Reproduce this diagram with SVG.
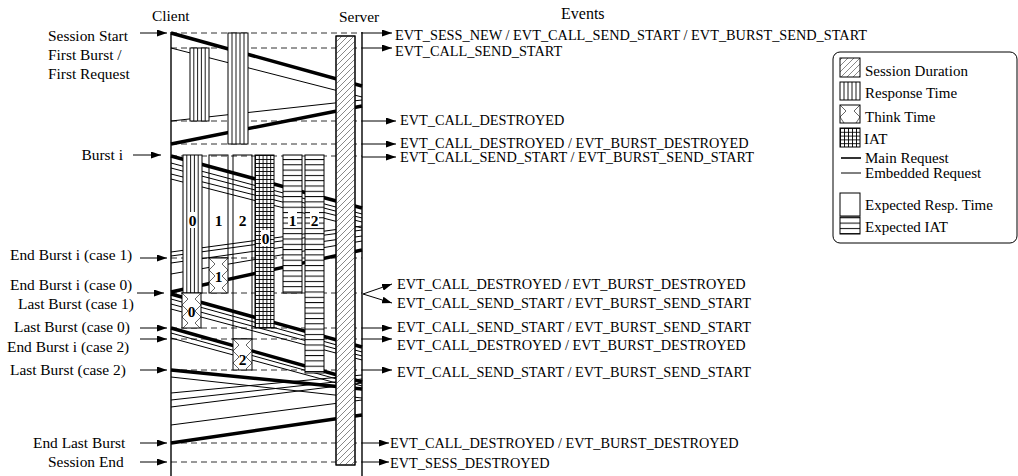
<svg xmlns="http://www.w3.org/2000/svg" width="1018" height="476" viewBox="0 0 1018 476">
<style>
text{font-family:"Liberation Serif","Times New Roman",serif;fill:#000}
.lbl{font-size:15.4px}
.evt{font-size:14.3px}
.leg{font-size:15px}
.dash{stroke:#333;stroke-width:1;stroke-dasharray:6,4;fill:none}
.thick{stroke:#000;stroke-width:3.5;fill:none}
.thin{stroke:#000;stroke-width:1;fill:none}
.ax{stroke:#000;stroke-width:1.4;fill:none}
.arr{stroke:#000;stroke-width:1;fill:none;marker-end:url(#ah)}
.box{stroke:#000;stroke-width:1;}
.strip{stroke:#000;stroke-width:0.9;fill:none}
</style>
<defs>
<marker id="ah" markerUnits="userSpaceOnUse" markerWidth="10" markerHeight="7" refX="10" refY="3.5" orient="auto"><path d="M0,0 L10,3.5 L0,7 z" fill="#000"/></marker>
<pattern id="hatch" patternUnits="userSpaceOnUse" width="6" height="6"><path d="M0,6 L6,0 M-1,1 L1,-1 M5,7 L7,5" stroke="#555" stroke-width="0.7"/></pattern>
<pattern id="hlines" patternUnits="userSpaceOnUse" width="20" height="5.3"><rect width="20" height="5.3" fill="#fff"/><line x1="0" y1="0.5" x2="20" y2="0.5" stroke="#000" stroke-width="1"/></pattern>
<pattern id="grid0" patternUnits="userSpaceOnUse" x="255" y="155" width="3.8" height="4"><rect width="3.8" height="4" fill="#fff"/><path d="M0.5,0 V4 M0,0.5 H3.8" stroke="#000" stroke-width="0.9"/></pattern>
<pattern id="gridL" patternUnits="userSpaceOnUse" x="840" y="128" width="4" height="3.8"><rect width="4" height="3.8" fill="#fff"/><path d="M0.5,0 V3.8 M0,0.5 H4" stroke="#000" stroke-width="0.9"/></pattern>
<pattern id="zz0" patternUnits="userSpaceOnUse" x="182" y="293" width="19" height="12"><rect width="19" height="12" fill="#fff"/><path d="M0,0 L6,6 L0,12 M19,0 L13,6 L19,12" stroke="#555" stroke-width="0.9" fill="none"/></pattern>
<pattern id="zz1" patternUnits="userSpaceOnUse" x="209" y="258" width="19" height="12"><rect width="19" height="12" fill="#fff"/><path d="M0,0 L6,6 L0,12 M19,0 L13,6 L19,12" stroke="#555" stroke-width="0.9" fill="none"/></pattern>
<pattern id="zz2" patternUnits="userSpaceOnUse" x="233" y="339" width="19" height="12"><rect width="19" height="12" fill="#fff"/><path d="M0,0 L6,6 L0,12 M19,0 L13,6 L19,12" stroke="#555" stroke-width="0.9" fill="none"/></pattern>
<pattern id="zzL" patternUnits="userSpaceOnUse" x="840" y="105" width="20" height="18"><rect width="20" height="18" fill="#fff"/><path d="M0,0 L6,6 L0,12 L4,18 M20,0 L14,6 L20,12 L16,18" stroke="#555" stroke-width="0.9" fill="none"/></pattern>
</defs>

<g id="headers">
<text class="lbl" x="152" y="21">Client</text>
<text class="lbl" x="339" y="22">Server</text>
<text class="lbl" x="561" y="19" style="font-size:16px">Events</text>
</g>

<g id="left-labels">
<text class="lbl" x="48" y="41">Session Start</text>
<text class="lbl" x="48" y="60">First Burst /</text>
<text class="lbl" x="48" y="79">First Request</text>
<text class="lbl" x="81.5" y="160">Burst i</text>
<text class="lbl" x="10" y="260">End Burst i (case 1)</text>
<text class="lbl" x="10" y="290">End Burst i (case 0)</text>
<text class="lbl" x="18" y="309">Last Burst (case 1)</text>
<text class="lbl" x="14" y="332">Last Burst (case 0)</text>
<text class="lbl" x="7" y="352">End Burst i (case 2)</text>
<text class="lbl" x="10" y="375">Last Burst (case 2)</text>
<text class="lbl" x="33" y="448">End Last Burst</text>
<text class="lbl" x="48" y="467">Session End</text>
</g>

<g id="connectors">
<path class="dash" d="M171,33 H362 M171,48 H362 M171,121 H362 M171,144 H362 M171,156 H362 M171,258 H362 M171,293 H362 M171,328 H362 M171,339 H362 M171,370 H362 M171,443 H362 M171,462 H362"/>
<path class="arr" d="M140,33 H167"/>
<path class="arr" d="M133,155 H161"/>
<path class="arr" d="M140,258 H167"/>
<path class="arr" d="M137,293 H164"/>
<path class="arr" d="M140,328 H167"/>
<path class="arr" d="M140,339 H167"/>
<path class="arr" d="M140,370 H167"/>
<path class="arr" d="M140,443 H167"/>
<path class="arr" d="M140,462 H167"/>
<path class="arr" d="M362,33 H392"/>
<path class="arr" d="M362,48 H392"/>
<path class="arr" d="M362,121 H396"/>
<path class="arr" d="M362,144 H396"/>
<path class="arr" d="M362,157 H396"/>
<path class="arr" d="M363,294 L392,284"/>
<path class="arr" d="M363,294 L392,303"/>
<path class="arr" d="M362,328 H392"/>
<path class="arr" d="M362,339 H392"/>
<path class="arr" d="M362,370 H392"/>
<path class="arr" d="M362,443 H389"/>
<path class="arr" d="M362,462 H389"/>
<path class="thick" d="M171,33 L362,86"/>
<path class="thin" d="M171,48 L362,97"/>
<path class="thin" d="M362,100 L171,121"/>
<path class="thick" d="M362,106 L171,144"/>
<path class="thick" d="M171,156 L362,208"/>
<path class="thin" d="M171,163 L362,214 M171,168 L362,218 M171,174 L362,222 M171,179 L362,228"/>
<path class="thin" d="M362,226 L171,252 M362,230 L171,256 M362,236 L171,263 M362,241 L171,274"/>
<path class="thick" d="M362,250 L171,292"/>
<path class="thick" d="M171,294 L362,347"/>
<path class="thin" d="M171,299 L362,352 M171,304 L362,356 M171,309 L362,360"/>
<path class="thick" d="M171,328 L362,382"/>
<path class="thin" d="M171,333 L362,386 M171,338 L362,390"/>
<path class="thick" d="M171,370 L362,389"/>
<path class="thin" d="M171,377 L362,398 M171,393 L362,375 M171,400 L362,379 M171,407 L362,383 M362,400 L171,425"/>
<path class="thick" d="M362,415 L171,443"/>
</g>

<g id="axes">
<line class="ax" x1="171" y1="32" x2="171" y2="476"/>
<line class="ax" x1="362" y1="32" x2="362" y2="476"/>
</g>

<g id="session-duration">
<rect class="box" x="336" y="36" width="19" height="429" fill="#fff"/>
<rect class="box" x="336" y="36" width="19" height="429" fill="url(#hatch)"/>
</g>

<g id="resp-first-embedded">
<rect class="box" x="190" y="48" width="19" height="73" fill="#fff"/>
<path class="strip" d="M193.8,48 V121 M197.6,48 V121 M201.4,48 V121 M205.2,48 V121"/>
</g>
<g id="resp-first-main">
<rect class="box" x="228" y="33" width="20" height="111" fill="#fff"/>
<path class="strip" d="M232,33 V144 M236,33 V144 M240,33 V144 M244,33 V144"/>
</g>

<g id="resp-0">
<rect class="box" x="183" y="155" width="19" height="138" fill="#fff"/>
<path class="strip" d="M186.8,155 V293 M190.6,155 V293 M194.4,155 V293 M198.2,155 V293"/>
<rect x="188" y="212" width="9" height="16" fill="#fff"/>
<text class="lbl" x="192.5" y="226" text-anchor="middle" font-weight="bold">0</text>
</g>
<g id="think-0">
<rect class="box" x="182" y="293" width="19" height="35" fill="url(#zz0)"/>
<text class="lbl" x="191.5" y="317" text-anchor="middle" font-weight="bold">0</text>
</g>

<g id="exp-resp-1">
<rect class="box" x="209" y="155" width="19" height="103" fill="none"/>
<text class="lbl" x="218.5" y="226" text-anchor="middle" font-weight="bold">1</text>
</g>
<g id="think-1">
<rect class="box" x="209" y="258" width="19" height="35" fill="url(#zz1)"/>
<text class="lbl" x="218.5" y="282" text-anchor="middle" font-weight="bold">1</text>
</g>

<g id="exp-resp-2">
<rect class="box" x="233" y="155" width="19" height="184" fill="none"/>
<text class="lbl" x="242.5" y="226" text-anchor="middle" font-weight="bold">2</text>
</g>
<g id="think-2">
<rect class="box" x="233" y="339" width="19" height="31" fill="url(#zz2)"/>
<text class="lbl" x="242.5" y="365" text-anchor="middle" font-weight="bold">2</text>
</g>

<g id="iat-0">
<rect class="box" x="255" y="155" width="19" height="173" fill="url(#grid0)"/>
<rect x="261" y="230" width="9" height="16" fill="#fff"/>
<text class="lbl" x="265.5" y="244" text-anchor="middle" font-weight="bold">0</text>
</g>

<g id="exp-iat-1">
<rect class="box" x="283" y="155" width="19" height="138" fill="url(#hlines)"/>
<rect x="288" y="212" width="9" height="16" fill="#fff"/>
<text class="lbl" x="292.5" y="226" text-anchor="middle" font-weight="bold">1</text>
</g>
<g id="exp-iat-2">
<rect class="box" x="305" y="155" width="19" height="218" fill="url(#hlines)"/>
<rect x="310" y="212" width="9" height="16" fill="#fff"/>
<text class="lbl" x="314.5" y="226" text-anchor="middle" font-weight="bold">2</text>
</g>

<g id="events">
<text class="evt" x="395" y="40">EVT_SESS_NEW / EVT_CALL_SEND_START / EVT_BURST_SEND_START</text>
<text class="evt" x="395" y="56">EVT_CALL_SEND_START</text>
<text class="evt" x="400" y="125">EVT_CALL_DESTROYED</text>
<text class="evt" x="400" y="148">EVT_CALL_DESTROYED / EVT_BURST_DESTROYED</text>
<text class="evt" x="400" y="162">EVT_CALL_SEND_START / EVT_BURST_SEND_START</text>
<text class="evt" x="397" y="289">EVT_CALL_DESTROYED / EVT_BURST_DESTROYED</text>
<text class="evt" x="397" y="308">EVT_CALL_SEND_START / EVT_BURST_SEND_START</text>
<text class="evt" x="397" y="332">EVT_CALL_SEND_START / EVT_BURST_SEND_START</text>
<text class="evt" x="397" y="350">EVT_CALL_DESTROYED / EVT_BURST_DESTROYED</text>
<text class="evt" x="397" y="377">EVT_CALL_SEND_START / EVT_BURST_SEND_START</text>
<text class="evt" x="390" y="448">EVT_CALL_DESTROYED / EVT_BURST_DESTROYED</text>
<text class="evt" x="390" y="468">EVT_SESS_DESTROYED</text>
</g>

<g id="legend">
<rect x="833" y="52" width="184" height="191" rx="7" fill="none" stroke="#000" stroke-width="1"/>
<rect class="box" x="840" y="58" width="20" height="19" fill="url(#hatch)"/>
<text class="leg" x="865" y="76">Session Duration</text>
<rect class="box" x="840" y="82" width="20" height="18" fill="#fff"/>
<path class="strip" d="M844,82 V100 M848,82 V100 M852,82 V100 M856,82 V100"/>
<text class="leg" x="865" y="98">Response Time</text>
<rect class="box" x="840" y="105" width="20" height="18" fill="url(#zzL)"/>
<text class="leg" x="865" y="122">Think Time</text>
<rect class="box" x="840" y="128" width="20" height="19" fill="url(#gridL)"/>
<text class="leg" x="864" y="144">IAT</text>
<line x1="841" y1="158" x2="861" y2="158" stroke="#000" stroke-width="1.6"/>
<text class="leg" x="865" y="163">Main Request</text>
<line x1="841" y1="173" x2="861" y2="173" stroke="#000" stroke-width="1"/>
<text class="leg" x="865" y="178">Embedded Request</text>
<rect class="box" x="840" y="193" width="20" height="23" fill="none"/>
<text class="leg" x="865" y="210">Expected Resp. Time</text>
<rect class="box" x="840" y="217" width="20" height="17" fill="url(#hlines)"/>
<text class="leg" x="865" y="232">Expected IAT</text>
</g>
</svg>
